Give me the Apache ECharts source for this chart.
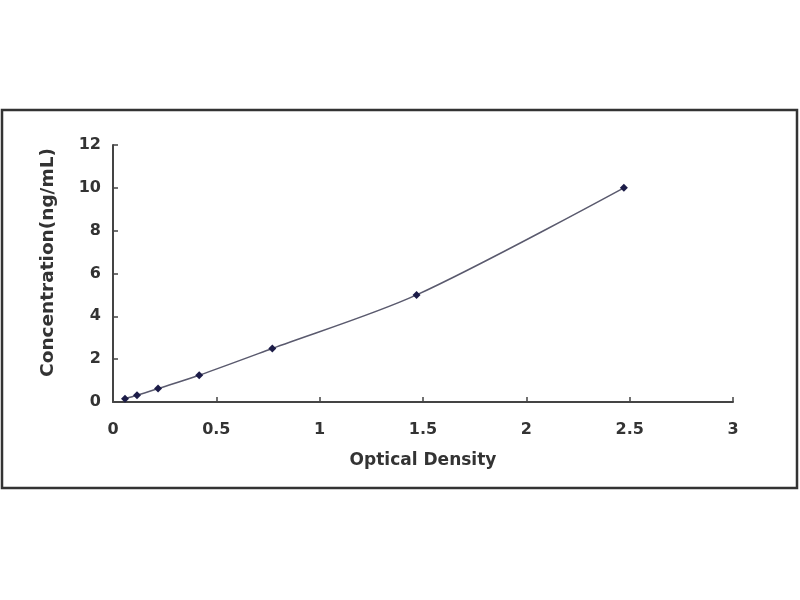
<!DOCTYPE html>
<html>
<head>
<meta charset="utf-8">
<script src="https://cdn.jsdelivr.net/npm/echarts@6/dist/echarts.min.js"></script>
<style>html,body{margin:0;padding:0;background:#fff}#c{width:800px;height:600px}</style>
</head>
<body>
<div id="c"></div>
<script>
const opticalDensity = [0.058, 0.116, 0.218, 0.417, 0.771, 1.469, 2.472];
const concentration = [0.156, 0.312, 0.625, 1.25, 2.5, 5, 10];
const xTicks = [0, 0.5, 1, 1.5, 2, 2.5, 3];
const yTicks = [0, 2, 4, 6, 8, 10, 12];

const chart = echarts.init(document.getElementById('c'));
const font = 'DejaVu Sans, Verdana, sans-serif';
chart.setOption({
  backgroundColor: '#fff',
  animation: false,
  graphic: [{
    type: 'rect', shape: {x: 2, y: 110, width: 795, height: 378},
    style: {fill: 'none', stroke: '#333', lineWidth: 2.5}, z: 0
  }],
  grid: {left: 113, right: 67, top: 145, bottom: 198},
  xAxis: {
    type: 'value', min: 0, max: 3, interval: 0.5,
    name: 'Optical Density', nameLocation: 'middle', nameGap: 50,
    nameTextStyle: {fontFamily: font, fontWeight: 'bold', fontSize: 17, color: '#333'},
    axisLine: {lineStyle: {color: '#444', width: 2}},
    axisTick: {inside: true, length: 5, lineStyle: {color: '#444', width: 1.5}},
    axisLabel: {fontFamily: font, fontWeight: 'bold', fontSize: 16, color: '#333', margin: 20,
      formatter: v => xTicks.includes(v) ? String(v) : ''},
    splitLine: {show: false}
  },
  yAxis: {
    type: 'value', min: 0, max: 12, interval: 2,
    name: 'Concentration(ng/mL)', nameLocation: 'middle', nameGap: 55,
    nameTextStyle: {fontFamily: font, fontWeight: 'bold', fontSize: 18.5, color: '#333', padding: [0, 0, 0, 22]},
    axisLine: {show: true, lineStyle: {color: '#444', width: 2}},
    axisTick: {show: true, inside: true, length: 5, lineStyle: {color: '#444', width: 1.5}},
    axisLabel: {fontFamily: font, fontWeight: 'bold', fontSize: 16, color: '#333', margin: 12,
      formatter: v => yTicks.includes(v) ? String(v) : ''},
    splitLine: {show: false}
  },
  series: [{
    type: 'line',
    data: opticalDensity.map((x, i) => [x, concentration[i]]),
    smooth: 0.3,
    symbol: 'diamond', symbolSize: 8,
    itemStyle: {color: '#1c1c48'},
    lineStyle: {color: '#5a5a6e', width: 1.5}
  }]
});
</script>
</body>
</html>
